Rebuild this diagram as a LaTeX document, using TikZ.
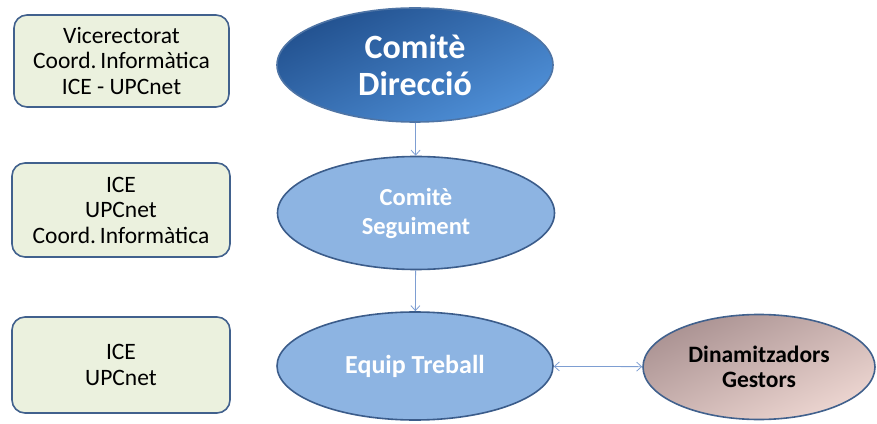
\documentclass[tikz,border=0pt]{standalone}
\usepackage{fontspec}
\setmainfont{Carlito}
\usepackage{tikz}
\usetikzlibrary{shapes.geometric,arrows.meta}

\definecolor{boxfill}{HTML}{EBF1DE}
\definecolor{boxline}{HTML}{41618D}
\definecolor{ovalfill}{HTML}{8DB4E2}
\definecolor{ovalline}{HTML}{3B5C8A}
\definecolor{dirtop}{HTML}{22518F}
\definecolor{dirbot}{HTML}{4F90D8}
\definecolor{dintop}{HTML}{AA9292}
\definecolor{dinbot}{HTML}{EDD6D1}
\definecolor{arrowcol}{HTML}{7E9ED2}

\begin{document}
\begin{tikzpicture}[x=1pt,y=1pt,
  unitbox/.style={draw=boxline,line width=1.6pt,fill=boxfill,rounded corners=13pt,
    align=center,inner sep=0pt,font=\fontsize{23.5}{25.5}\selectfont},
  oval/.style={ellipse,draw=ovalline,line width=1.6pt,align=center,inner sep=0pt,
    font=\bfseries\fontsize{24.5}{29}\selectfont,text=white},
  link/.style={arrowcol,line width=0.8pt}]
\useasboundingbox (0,0) rectangle (877,423);
% left column
\node [unitbox,minimum width=215,minimum height=92] (vice) at (121.5,362) {Vicerectorat\\Coord.\,Informàtica\\ICE - UPCnet};
\node [unitbox,minimum width=218,minimum height=94] (seg) at (121,213) {ICE\\UPCnet\\Coord.\,Informàtica};
\node [unitbox,minimum width=218,minimum height=96] (treb) at (121,58) {ICE\\UPCnet};
% ovals
\node [oval,minimum width=276,minimum height=114,draw=dirtop!80!white,top color=dirtop,bottom color=dirbot,
  shading angle=25,font=\bfseries\fontsize{34}{37}\selectfont] (dir) at (415,358) {Comitè\\Direcció};
\node [oval,minimum width=277,minimum height=113,fill=ovalfill] (cseg) at (416,210) {Comitè\\Seguiment};
\node [oval,minimum width=276,minimum height=108,fill=ovalfill,font=\bfseries\fontsize{26}{29}\selectfont] (equip) at (415,57) {Equip Treball};
\node [oval,minimum width=232,minimum height=105,draw=boxline,top color=dintop,bottom color=dinbot,
  shading angle=25,text=black,font=\bfseries\fontsize{23.5}{25}\selectfont] (dinam) at (759,56) {Dinamitzadors\\Gestors};
% links
\draw [link,-{Straight Barb[length=5pt,width=9pt]}] (dir) -- (cseg);
\draw [link,-{Straight Barb[length=5pt,width=9pt]}] (cseg) -- (equip);
\draw [link,{Straight Barb[length=5pt,width=9pt]}-{Straight Barb[length=5pt,width=9pt]}] (equip) -- (dinam);
\end{tikzpicture}
\end{document}
